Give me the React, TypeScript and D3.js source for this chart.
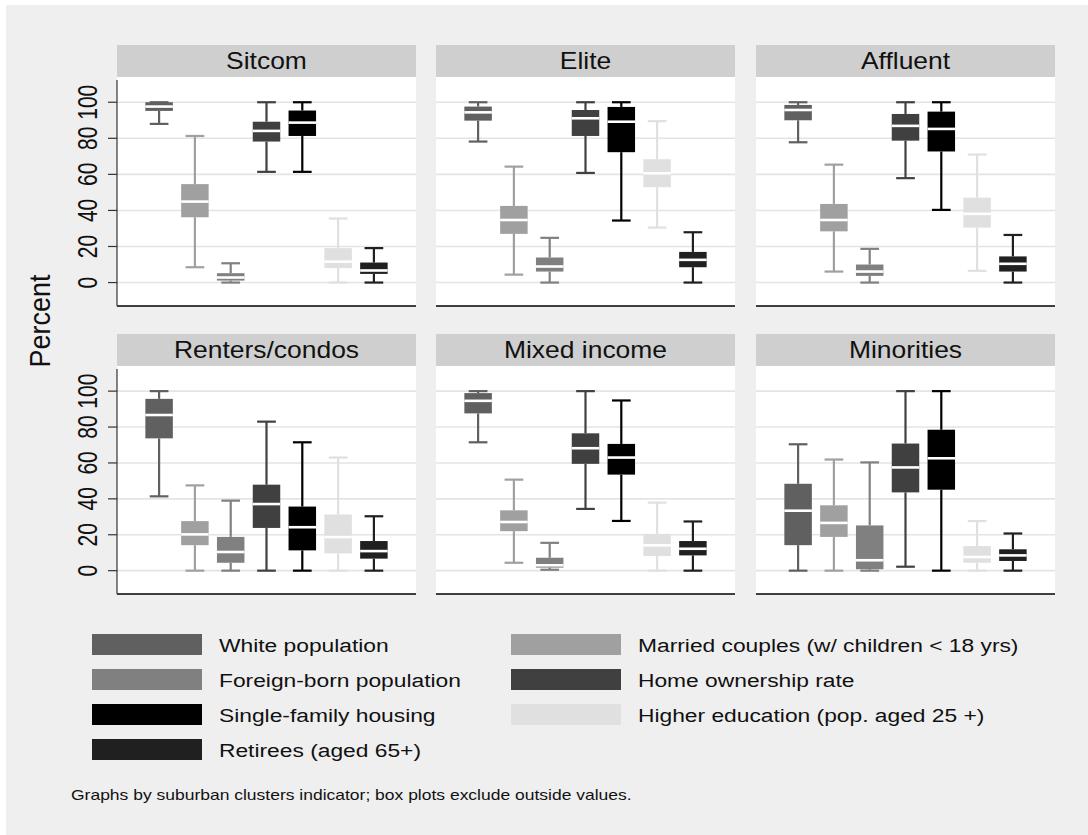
import React from "react";
import * as d3 from "d3";

// ---- Data ----
const panels = ["Sitcom", "Elite", "Affluent", "Renters/condos", "Mixed income", "Minorities"];

const variables = [
  "White population",
  "Married couples (w/ children < 18 yrs)",
  "Foreign-born population",
  "Home ownership rate",
  "Single-family housing",
  "Higher education (pop. aged 25 +)",
  "Retirees (aged 65+)",
];

const colors = ["#606060", "#a0a0a0", "#808080", "#404040", "#000000", "#e0e0e0", "#202020"];

const yTicks = [0, 20, 40, 60, 80, 100];

// each entry: [lower whisker, q1, median, q3, upper whisker]
const sitcom = [
  [88, 95.2, 97.6, 100, 100],
  [8.5, 36.2, 44.9, 54.6, 81.3],
  [0, 1.1, 2.8, 5.2, 10.7],
  [61.4, 78.2, 84.1, 89.2, 100],
  [61.4, 81.3, 88.7, 95.4, 100],
  [0, 8.0, 11.6, 19.1, 35.5],
  [0, 4.8, 6.7, 11.1, 19.1],
];
const elite = [
  [78.2, 89.8, 94.4, 97.6, 100],
  [4.4, 27.0, 34.7, 42.5, 64.3],
  [0, 6.1, 8.9, 13.9, 24.8],
  [60.8, 81.3, 91.1, 95.7, 100],
  [34.4, 72.3, 89.2, 97.4, 100],
  [30.5, 52.9, 60.6, 68.4, 89.5],
  [0, 8.5, 12.6, 17.0, 27.9],
];
const affluent = [
  [77.8, 90.0, 95.7, 98.5, 100],
  [6.1, 28.4, 34.7, 43.6, 65.4],
  [0, 3.7, 6.1, 10.0, 18.7],
  [57.9, 78.7, 86.9, 93.5, 100],
  [40.3, 72.7, 85.2, 94.8, 100],
  [6.5, 30.5, 38.1, 47.1, 71.0],
  [0, 6.1, 10.4, 14.5, 26.4],
];
const renters = [
  [41.4, 73.7, 86.7, 95.7, 100],
  [0, 14.2, 20.2, 27.6, 47.5],
  [0, 4.4, 10.4, 18.8, 39.0],
  [0, 23.8, 37.1, 47.9, 83.0],
  [0, 11.3, 24.2, 35.7, 71.5],
  [0, 9.6, 18.7, 31.3, 63.0],
  [0, 6.7, 10.9, 16.5, 30.3],
];
const mixedIncome = [
  [71.5, 87.6, 94.6, 98.9, 100],
  [4.4, 22.0, 27.1, 33.6, 50.7],
  [0.5, 1.7, 3.0, 7.2, 15.5],
  [34.4, 59.5, 68.2, 76.5, 100],
  [27.7, 53.5, 63.0, 70.6, 94.8],
  [0, 8.1, 14.1, 20.5, 37.9],
  [0, 8.5, 12.2, 16.5, 27.4],
];
const minorities = [
  [0, 14.2, 33.4, 48.4, 70.4],
  [0, 18.8, 26.6, 36.4, 61.9],
  [0, 0.8, 5.8, 25.2, 60.3],
  [2.2, 43.6, 57.5, 70.8, 100],
  [0, 45.1, 62.6, 78.5, 100],
  [0, 4.4, 7.6, 13.7, 27.6],
  [0, 5.4, 8.5, 11.9, 20.7],
];
const panelData = [sitcom, elite, affluent, renters, mixedIncome, minorities];

const footnote = "Graphs by suburban clusters indicator; box plots exclude outside values.";

// ---- Layout ----
const W = 1088;
const H = 835;
const FONT = "'Liberation Sans', Arial, sans-serif";
const colX = [117, 436, 756];
const panelW = 299;
const rowTop = [45, 334];
const stripH = 32;
const rowBottom = [306, 594];
const STRETCH = 1.28; // reference image is horizontally stretched

function SText(props: {
  x: number; y: number; sx?: number; size: number; anchor?: string; fill?: string; children: React.ReactNode;
}) {
  const { x, y, sx = 1, size, anchor = "start", fill = "#111", children } = props;
  return (
    <text
      transform={`translate(${x},${y}) scale(${sx},1)`}
      fontSize={size}
      fontFamily={FONT}
      textAnchor={anchor}
      fill={fill}
    >
      {children}
    </text>
  );
}

function Panel({ index }: { index: number }) {
  const col = index % 3;
  const row = Math.floor(index / 3);
  const x0 = colX[col];
  const top = rowTop[row];
  const plotTop = top + stripH;
  const bottom = rowBottom[row];
  const data = panelData[index];

  const y = d3.scaleLinear().domain([-13, 114]).range([bottom, plotTop]);
  const x = d3
    .scaleBand<string>()
    .domain(variables)
    .range([x0, x0 + panelW])
    .paddingInner(0.232)
    .paddingOuter(0.792);
  const bw = x.bandwidth();
  const capW = bw * 0.68;

  return (
    <g>
      <rect x={x0} y={top} width={panelW} height={stripH} fill="#cfcfcf" />
      <SText x={x0 + panelW / 2} y={top + 24} sx={1.15} size={23} anchor="middle">
        {panels[index]}
      </SText>
      <rect x={x0} y={plotTop} width={panelW} height={bottom - plotTop} fill="#ffffff" />
      {yTicks.map((t) => (
        <line key={t} x1={x0} x2={x0 + panelW} y1={y(t)} y2={y(t)} stroke="#e4e4e4" strokeWidth={1.6} />
      ))}
      {data.map((s, i) => {
        const cx = (x(variables[i]) as number) + bw / 2;
        const c = colors[i];
        const [lw, q1, med, q3, uw] = s;
        return (
          <g key={i}>
            <line x1={cx} x2={cx} y1={y(uw)} y2={y(q3)} stroke={c} strokeWidth={2.2} />
            <line x1={cx} x2={cx} y1={y(q1)} y2={y(lw)} stroke={c} strokeWidth={2.2} />
            <line x1={cx - capW / 2} x2={cx + capW / 2} y1={y(uw)} y2={y(uw)} stroke={c} strokeWidth={2.2} />
            <line x1={cx - capW / 2} x2={cx + capW / 2} y1={y(lw)} y2={y(lw)} stroke={c} strokeWidth={2.2} />
            <rect x={cx - bw / 2} y={y(q3)} width={bw} height={Math.max(1, y(q1) - y(q3))} fill={c} />
            <line x1={cx - bw / 2} x2={cx + bw / 2} y1={y(med)} y2={y(med)} stroke="#ffffff" strokeWidth={2.6} />
          </g>
        );
      })}
      <line x1={x0} x2={x0 + panelW} y1={bottom} y2={bottom} stroke="#000" strokeWidth={1.5} />
      {col === 0 && (
        <g>
          <line x1={x0} x2={x0} y1={plotTop + 3} y2={bottom} stroke="#333" strokeWidth={1.2} />
          {yTicks.map((t) => (
            <g key={t}>
              <line x1={x0 - 9} x2={x0} y1={y(t)} y2={y(t)} stroke="#333" strokeWidth={1.2} />
              <text
                transform={`translate(${x0 - 20},${y(t)}) scale(${STRETCH},1) rotate(-90)`}
                textAnchor="middle"
                fontSize={21}
                fontFamily={FONT}
                fill="#111"
              >
                {t}
              </text>
            </g>
          ))}
        </g>
      )}
    </g>
  );
}

export default function App() {
  const legendRows = [634, 669, 704, 739];
  const legendSwatchX = [92, 511];
  const swW = 110;
  const swH = 21;
  return (
    <div style={{ position: "absolute", left: 0, top: 0 }}>
      <svg width={W} height={H} style={{ display: "block" }}>
        <rect x={0} y={0} width={W} height={H} fill="#ffffff" />
        <rect x={6} y={5} width={W - 6} height={H - 5} fill="#efefef" />
        {panels.map((_, i) => (
          <Panel key={i} index={i} />
        ))}
        <text
          transform={`translate(50,321) scale(1.1,1) rotate(-90)`}
          textAnchor="middle"
          fontSize={27}
          fontFamily={FONT}
          fill="#111"
        >
          Percent
        </text>
        {variables.map((v, i) => {
          const r = Math.floor(i / 2);
          const c = i % 2;
          const sx = legendSwatchX[c];
          const ry = legendRows[r];
          return (
            <g key={v}>
              <rect x={sx} y={ry} width={swW} height={swH} fill={colors[i]} />
              <SText x={sx + swW + 17} y={ry + 18} sx={1.2} size={19}>
                {v}
              </SText>
            </g>
          );
        })}
        <SText x={71} y={800} sx={1.25} size={14}>
          {footnote}
        </SText>
      </svg>
    </div>
  );
}
